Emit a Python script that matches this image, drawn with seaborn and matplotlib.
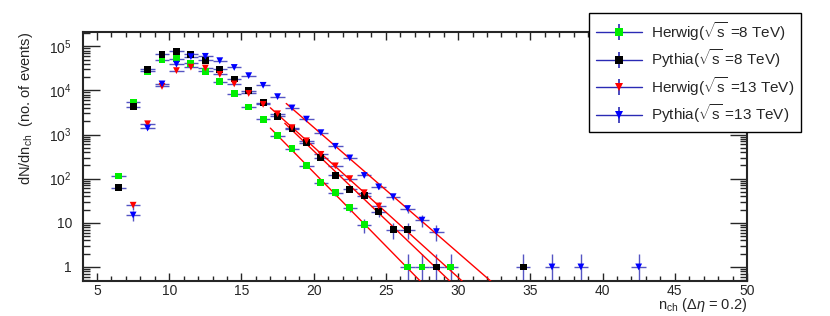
import numpy as np
import pandas as pd
import matplotlib
matplotlib.use("Agg")
import matplotlib.pyplot as plt
import matplotlib.ticker as mticker
from matplotlib.lines import Line2D
import seaborn as sns

sns.set_style("ticks")
plt.rcParams["font.family"] = ["Liberation Sans", "DejaVu Sans"]
plt.rcParams["mathtext.fontset"] = "custom"
plt.rcParams["mathtext.rm"] = "Liberation Sans"
plt.rcParams["mathtext.it"] = "Liberation Sans:italic"
plt.rcParams["mathtext.sf"] = "Liberation Sans"

# ---------------------------
# Data
# ---------------------------
herwig8_n = [6.5, 7.5, 8.5, 9.5, 10.5, 11.5, 12.5, 13.5, 14.5, 15.5, 16.5, 17.5,
             18.5, 19.5, 20.5, 21.5, 22.5, 23.5, 26.5, 27.5, 29.5]
herwig8_N = [115, 5400, 27000, 49000, 52000, 41000, 27000, 15600, 8400, 4200, 2200, 940,
             480, 197, 81, 48, 22, 9, 1, 1, 1]

pythia8_n = [6.5, 7.5, 8.5, 9.5, 10.5, 11.5, 12.5, 13.5, 14.5, 15.5, 16.5, 17.5,
             18.5, 19.5, 20.5, 21.5, 22.5, 23.5, 24.5, 25.5, 26.5, 28.5, 34.5]
pythia8_N = [63, 4300, 30000, 65000, 77000, 66000, 48000, 30000, 18000, 9800, 5200, 2600,
             1350, 650, 300, 118, 57, 41, 18, 7, 7, 1, 1]

herwig13_n = [7.5, 8.5, 9.5, 10.5, 11.5, 12.5, 13.5, 14.5, 15.5, 16.5, 17.5,
              18.5, 19.5, 20.5, 21.5, 22.5, 23.5, 24.5]
herwig13_N = [25, 1750, 12300, 28000, 33500, 32000, 23000, 14000, 8500, 4800, 2950,
              1430, 720, 355, 195, 100, 48, 24]

pythia13_n = [7.5, 8.5, 9.5, 10.5, 11.5, 12.5, 13.5, 14.5, 15.5, 16.5, 17.5, 18.5,
              19.5, 20.5, 21.5, 22.5, 23.5, 24.5, 25.5, 26.5, 27.5, 28.5, 36.5, 38.5, 42.5]
pythia13_N = [15, 1400, 14000, 39000, 58000, 59000, 47000, 33000, 21500, 13000, 7200, 4000,
              2230, 1100, 540, 295, 118, 65, 39, 21, 11.5, 6.3, 1, 1, 1]

labels = [r"Herwig($\sqrt{\mathrm{s}}$ =8 TeV)", r"Pythia($\sqrt{\mathrm{s}}$ =8 TeV)",
          r"Herwig($\sqrt{\mathrm{s}}$ =13 TeV)", r"Pythia($\sqrt{\mathrm{s}}$ =13 TeV)"]
colors = ["#00ee00", "#000000", "#ff0000", "#0000ff"]
markers = ["s", "s", "v", "v"]

# exponential fit ranges (n_ch) and where the drawn fit line starts
fit_lo = [17.5, 17.5, 17.5, 18.5]
fit_hi = [23.5, 24.5, 24.5, 28.5]
line_start = [17.0, 18.0, 17.0, 18.1]

series = [(herwig8_n, herwig8_N), (pythia8_n, pythia8_N),
          (herwig13_n, herwig13_N), (pythia13_n, pythia13_N)]

frames = []
for (n, N), lab in zip(series, labels):
    frames.append(pd.DataFrame({"n": n, "N": N, "sample": lab}))
df = pd.concat(frames, ignore_index=True)

# ---------------------------
# Plot
# ---------------------------
fig = plt.figure(figsize=(8.3, 3.16), dpi=100)
ax = fig.add_axes([83 / 830, 35 / 316, 664 / 830, 249 / 316])

ebar_color = "#2a2ab4"
for (n, N) in series:
    n = np.array(n, dtype=float)
    N = np.array(N, dtype=float)
    err = np.sqrt(N)
    low = np.minimum(err, N - 1e-2)
    ax.errorbar(n, N, xerr=0.5, yerr=[low, err], fmt="none", ecolor=ebar_color,
                elinewidth=1.0, capsize=0, alpha=0.8, zorder=2)

# exponential fits drawn as straight lines on the log axis
for (n, N), lo, hi, x0 in zip(series, fit_lo, fit_hi, line_start):
    n = np.array(n, dtype=float)
    N = np.array(N, dtype=float)
    sel = (n >= lo) & (n <= hi)
    slope, icpt = np.polyfit(n[sel], np.log10(N[sel]), 1)
    xs = np.linspace(x0, 45, 50)
    sns.lineplot(x=xs, y=10 ** (icpt + slope * xs), color="red", lw=1.0, ax=ax, zorder=3)

sns.scatterplot(data=df, x="n", y="N", hue="sample", style="sample",
                palette=dict(zip(labels, colors)), markers=dict(zip(labels, markers)),
                s=24, linewidth=0, legend=False, ax=ax, zorder=4)

ax.set_yscale("log")
ax.set_xlim(4.03, 50)
ax.set_ylim(0.48, 2.1e5)

ax.xaxis.set_major_locator(mticker.MultipleLocator(5))
ax.xaxis.set_minor_locator(mticker.MultipleLocator(1))
ax.yaxis.set_major_locator(mticker.LogLocator(base=10, numticks=10))
ax.yaxis.set_minor_locator(mticker.LogLocator(base=10, subs=np.arange(2, 10), numticks=10))
ax.yaxis.set_minor_formatter(mticker.NullFormatter())


def ylab(v, pos):
    if v == 1:
        return "1"
    if v == 10:
        return "10"
    return r"$10^{%d}$" % round(np.log10(v))


ax.yaxis.set_major_formatter(mticker.FuncFormatter(ylab))

ax.tick_params(which="both", direction="in", top=True, right=True, labelsize=10, width=1)
ax.tick_params(axis="x", which="major", length=6, pad=2)
ax.tick_params(axis="x", which="minor", length=3.5)
ax.tick_params(axis="y", which="major", length=12, pad=8)
ax.tick_params(axis="y", which="minor", length=5)
for sp in ax.spines.values():
    sp.set_linewidth(1.5)

ax.set_xlabel(r"n$_{\mathrm{ch}}$ ($\Delta\eta$ = 0.2)", fontsize=10.5, loc="right", labelpad=-1)
ax.set_ylabel(r"dN/dn$_{\mathrm{ch}}$  (no. of events)", fontsize=10.5, loc="top", labelpad=10)

handles = []
for c, m in zip(colors, markers):
    bar = Line2D([], [], color=ebar_color, lw=1, marker="|", markersize=11,
                 markeredgewidth=1.2)
    mk = Line2D([], [], ls="none", marker=m, color=c, markersize=5.5, markeredgewidth=0)
    handles.append((bar, mk))

leg = ax.legend(handles, labels, loc="upper left", bbox_to_anchor=(589 / 830, 1 - 13 / 316),
                bbox_transform=fig.transFigure, fontsize=11, frameon=True, fancybox=False,
                handlelength=3.0, handletextpad=0.6, labelspacing=0.3, borderpad=0.45,
                borderaxespad=0)
leg.get_frame().set_edgecolor("black")
leg.get_frame().set_linewidth(1.0)
leg.get_frame().set_alpha(1)

plt.savefig("out.png", dpi=100)
plt.close()
